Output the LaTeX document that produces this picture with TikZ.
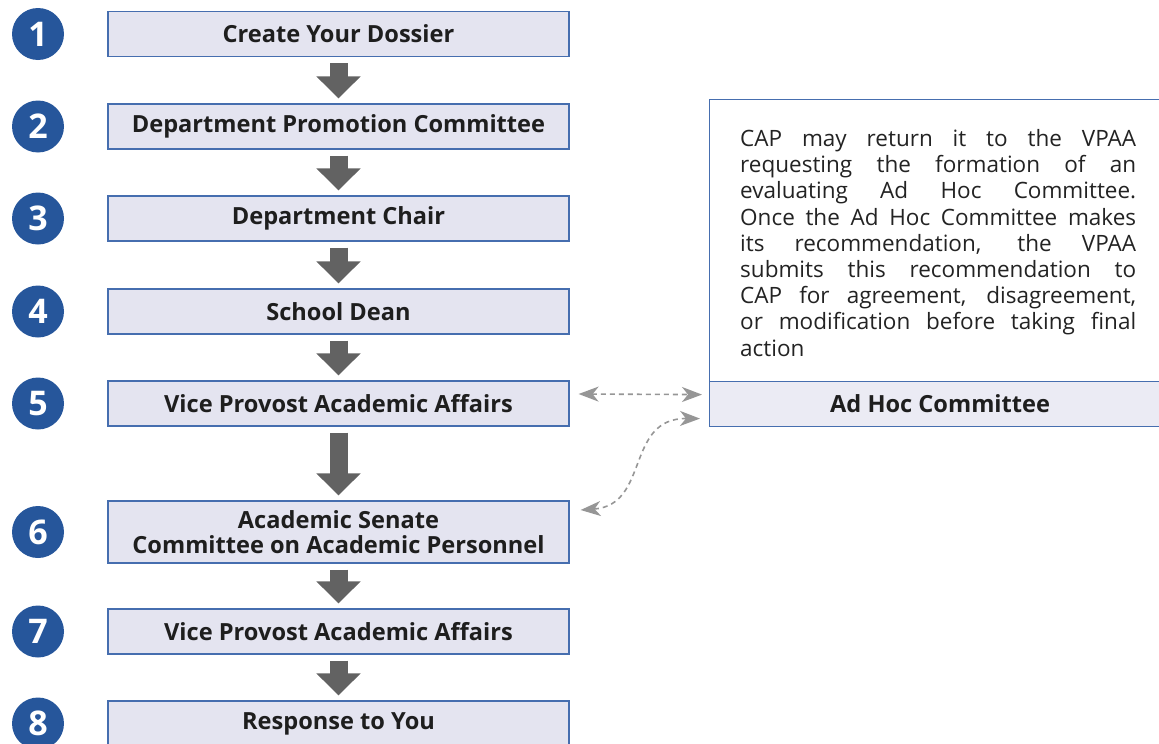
\documentclass[tikz,border=0pt]{standalone}
\usepackage{fontspec}
\setmainfont{Open Sans}
\usetikzlibrary{arrows.meta,calc}
\definecolor{boxfill}{RGB}{228,228,240}
\definecolor{notefill}{RGB}{235,235,244}
\definecolor{boxline}{RGB}{70,110,175}
\definecolor{circblue}{RGB}{38,86,155}
\definecolor{arrowgray}{RGB}{98,98,98}
\definecolor{dashgray}{RGB}{150,150,150}
\definecolor{titletext}{RGB}{30,30,30}
\definecolor{bodytext}{RGB}{35,35,35}
\newcommand{\jline}[1]{\makebox[\linewidth][s]{#1}\par}
\begin{document}
\begin{tikzpicture}[x=1pt,y=-1pt,
  stepbox/.style={draw=boxline, fill=boxfill, line width=1.2pt, minimum width=461pt, minimum height=45pt, inner sep=0pt, font=\fontsize{23.6}{25}\selectfont\bfseries, text=titletext, align=center},
  numcirc/.style={circle, fill=circblue, minimum size=52pt, inner sep=0pt, text=white, font=\fontsize{34}{34}\selectfont\bfseries},
  flowarrow/.style={draw=arrowgray, line width=18pt, -{Triangle[width=43pt,length=22pt]}, shorten <=6pt, shorten >=5pt},
  dasharrow/.style={draw=dashgray, line width=1.6pt, dash pattern=on 5pt off 4pt, {Stealth[length=20pt,width=15pt,inset=6pt]}-{Stealth[length=20pt,width=15pt,inset=6pt]}}
]
\useasboundingbox (0,0) rectangle (1159,744);

% steps
\node[stepbox] (s1) at (338.5,34) {Create Your Dossier};
\node[stepbox] (s2) at (338.5,126.5) {Department Promotion Committee};
\node[stepbox] (s3) at (338.5,218.5) {Department Chair};
\node[stepbox] (s4) at (338.5,311.5) {School Dean};
\node[stepbox] (s5) at (338.5,403.5) {Vice Provost Academic Affairs};
\node[stepbox, minimum height=62pt] (s6) at (338.5,532) {Academic Senate\\Committee on Academic Personnel};
\node[stepbox] (s7) at (338.5,631.5) {Vice Provost Academic Affairs};
\node[stepbox] (s8) at (338.5,723.5) {Response to You};

% numbers
\node[numcirc] (n1) at (38,34) {1};
\node[numcirc] (n2) at (38,126.5) {2};
\node[numcirc] (n3) at (38,218.5) {3};
\node[numcirc] (n4) at (38,311.5) {4};
\node[numcirc] (n5) at (38,403.5) {5};
\node[numcirc] (n6) at (38,532) {6};
\node[numcirc] (n7) at (38,631.5) {7};
\node[numcirc] (n8) at (38,723.5) {8};

% flow arrows
\draw[flowarrow] (s1.south) -- (s2.north);
\draw[flowarrow] (s2.south) -- (s3.north);
\draw[flowarrow] (s3.south) -- (s4.north);
\draw[flowarrow] (s4.south) -- (s5.north);
\draw[flowarrow] (s5.south) -- (s6.north);
\draw[flowarrow] (s6.south) -- (s7.north);
\draw[flowarrow] (s7.south) -- (s8.north);

% note box
\node[draw=boxline, fill=white, line width=1.2pt, minimum width=461pt, minimum height=282pt, inner sep=0pt, anchor=north west] (note) at (709,99) {};
\node[draw=boxline, fill=notefill, line width=1.2pt, minimum width=461pt, minimum height=45pt, inner sep=0pt, anchor=north west, font=\fontsize{23.6}{25}\selectfont\bfseries, text=titletext] (adhoc) at (709,381) {Ad Hoc Committee};
\node[anchor=base west, inner sep=0pt, text=bodytext] (notetext) at (740,146.5) {%
\begin{minipage}[t]{396pt}\fontsize{22.5}{26.2}\selectfont\parindent=0pt
\jline{CAP may return it to the VPAA}
\jline{requesting the formation of an}
\jline{evaluating Ad Hoc Committee.}
\jline{Once the Ad Hoc Committee makes}
\jline{its recommendation, the VPAA}
\jline{submits this recommendation to}
\jline{CAP for agreement, disagreement,}
\jline{or modification before taking final}
action
\end{minipage}};

% dashed connectors
\draw[dasharrow] ([xshift=9pt,yshift=9.5pt]s5.east) -- ([xshift=-7pt,yshift=9.5pt]adhoc.west);
\draw[dasharrow] ([xshift=11pt,yshift=22pt]s6.east) .. controls (650,505) and (625,418) .. ([xshift=-9pt,yshift=-14.5pt]adhoc.west);
\end{tikzpicture}
\end{document}
